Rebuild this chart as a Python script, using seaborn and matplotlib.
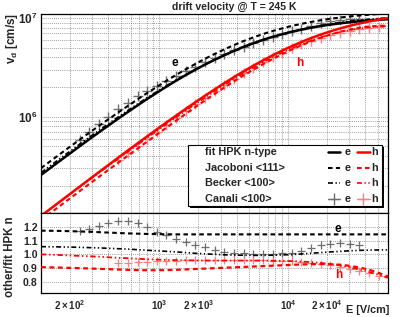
import numpy as np
import pandas as pd
import matplotlib
matplotlib.use('Agg')
import matplotlib.pyplot as plt
import seaborn as sns
from matplotlib.ticker import NullFormatter
from matplotlib.patches import Rectangle
from matplotlib.lines import Line2D

# electric field grid [V/cm]
field = [120, 143, 170, 202, 240, 285, 340, 400, 480, 570, 680, 800, 955, 1135,
         1350, 1600, 1900, 2265, 2700, 3200, 3800, 4520, 5370, 6380, 7590, 9020,
         10700, 12700, 15100, 18000, 21400, 25400, 30200, 35900, 42700, 50700, 60000]

# fit HPK n-type drift velocity [cm/s]
fit_e = [2.575e5, 3.05e5, 3.61e5, 4.26e5, 5.03e5, 5.92e5, 6.98e5, 8.12e5, 9.60e5,
         1.12e6, 1.31e6, 1.51e6, 1.75e6, 2.02e6, 2.32e6, 2.64e6, 2.99e6, 3.38e6,
         3.79e6, 4.21e6, 4.65e6, 5.11e6, 5.56e6, 6.01e6, 6.45e6, 6.87e6, 7.26e6,
         7.63e6, 7.98e6, 8.30e6, 8.59e6, 8.84e6, 9.07e6, 9.27e6, 9.44e6, 9.60e6, 9.73e6]
fit_h = [9.88e4, 1.176e5, 1.395e5, 1.654e5, 1.961e5, 2.322e5, 2.760e5, 3.234e5,
         3.861e5, 4.559e5, 5.400e5, 6.305e5, 7.454e5, 8.760e5, 1.028e6, 1.200e6,
         1.400e6, 1.634e6, 1.900e6, 2.191e6, 2.519e6, 2.886e6, 3.286e6, 3.720e6,
         4.189e6, 4.682e6, 5.192e6, 5.719e6, 6.258e6, 6.806e6, 7.337e6, 7.847e6,
         8.341e6, 8.806e6, 9.241e6, 9.637e6, 9.992e6]

# other models / fit HPK n
nan = np.nan
ratio_jac_e = [1.172, 1.171, 1.170, 1.168, 1.166, 1.164, 1.161, 1.158, 1.155, 1.152,
               1.150, 1.148, 1.147, 1.146, 1.145, 1.145, 1.145, 1.145, 1.145, 1.145,
               1.145, 1.145, 1.145, 1.145, 1.145, 1.145, 1.145, 1.145, 1.145, 1.145,
               1.145, 1.145, 1.145, 1.145, 1.145, 1.145, 1.145]
ratio_bec_e = [1.056, 1.055, 1.054, 1.053, 1.051, 1.049, 1.047, 1.044, 1.041, 1.038,
               1.034, 1.030, 1.026, 1.022, 1.018, 1.013, 1.008, 1.004, 1.000, 0.997,
               0.995, 0.994, 0.993, 0.993, 0.994, 0.996, 0.999, 1.003, 1.008, 1.013,
               1.018, 1.022, 1.026, 1.029, 1.031, 1.032, 1.033]
ratio_can_e = [nan, nan, nan, nan, 1.170, 1.185, 1.205, 1.225, 1.240, 1.245,
               1.228, 1.200, 1.165, 1.140, 1.115, 1.090, 1.070, 1.050, 1.035, 1.020,
               1.012, 1.007, 1.005, 1.005, 1.005, 1.008, 1.012, 1.025, 1.045, 1.065,
               1.075, 1.080, 1.078, 1.065, nan, nan, nan]
ratio_jac_h = [0.908, 0.906, 0.904, 0.902, 0.900, 0.898, 0.895, 0.893, 0.890, 0.888,
               0.886, 0.885, 0.885, 0.886, 0.888, 0.891, 0.894, 0.897, 0.900, 0.903,
               0.906, 0.909, 0.912, 0.915, 0.918, 0.921, 0.924, 0.927, 0.929, 0.930,
               0.929, 0.925, 0.917, 0.905, 0.889, 0.866, 0.840]
ratio_bec_h = [1.000, 0.998, 0.995, 0.992, 0.989, 0.986, 0.983, 0.979, 0.975, 0.972,
               0.968, 0.965, 0.962, 0.960, 0.958, 0.957, 0.956, 0.955, 0.955, 0.955,
               0.955, 0.955, 0.955, 0.955, 0.954, 0.953, 0.951, 0.948, 0.944, 0.938,
               0.930, 0.920, 0.906, 0.890, 0.872, 0.852, 0.830]
ratio_can_h = [nan, nan, nan, nan, nan, nan, nan, nan, 0.935, 0.940,
               0.944, 0.947, 0.950, 0.952, 0.954, 0.956, 0.957, 0.958, 0.958, 0.958,
               0.958, 0.958, 0.957, 0.956, 0.955, 0.953, 0.950, 0.946, 0.940, 0.932,
               0.922, 0.910, 0.896, 0.880, 0.862, 0.845, nan]

legend_rows = ['fit HPK n-type', 'Jacoboni <111>', 'Becker <100>', 'Canali <100>']
x_major = [200, 1000, 2000, 10000, 20000]
x_major_labels = [r'$2\times10^{2}$', r'$10^{3}$', r'$2\times10^{3}$', r'$10^{4}$', r'$2\times10^{4}$']
x_minor = [300, 400, 500, 600, 700, 800, 900, 3000, 4000, 5000, 6000, 7000, 8000, 9000,
           30000, 40000, 50000]
y_major = [1e6, 1e7]
y_major_labels = [r'$10^{6}$', r'$10^{7}$']
y_minor = [2e5, 3e5, 4e5, 5e5, 6e5, 7e5, 8e5, 9e5, 2e6, 3e6, 4e6, 5e6, 6e6, 7e6, 8e6, 9e6]
r_major = [0.8, 0.9, 1.0, 1.1, 1.2]

df = pd.DataFrame({'E': field, 'fit_e': fit_e, 'fit_h': fit_h,
                   'r_jac_e': ratio_jac_e, 'r_bec_e': ratio_bec_e, 'r_can_e': ratio_can_e,
                   'r_jac_h': ratio_jac_h, 'r_bec_h': ratio_bec_h, 'r_can_h': ratio_can_h})
for m in ['jac', 'bec', 'can']:
    df[m + '_e'] = df['fit_e'] * df['r_' + m + '_e']
    df[m + '_h'] = df['fit_h'] * df['r_' + m + '_h']

sns.set_style('white')
plt.rcParams['font.family'] = ['Liberation Sans', 'DejaVu Sans']
plt.rcParams['font.weight'] = 'bold'
plt.rcParams['mathtext.fontset'] = 'custom'
plt.rcParams['mathtext.rm'] = 'Liberation Sans:bold'
plt.rcParams['mathtext.it'] = 'Liberation Sans:bold'
plt.rcParams['mathtext.bf'] = 'Liberation Sans:bold'
plt.rcParams['mathtext.default'] = 'rm'

GRAY = '#6e6e6e'
PINK = '#ff8080'
DASH = (0, (2.2, 1.6))
DDOT = (0, (3.0, 1.5, 0.8, 1.5, 0.8, 1.5))

fig = plt.figure(figsize=(4.09, 3.17), dpi=100)
ax1 = fig.add_axes([0.1002, 0.3281, 0.8484, 0.6278])
ax2 = fig.add_axes([0.1002, 0.0757, 0.8484, 0.2524])

# --- top panel: drift velocity
sns.scatterplot(data=df, x='E', y='can_e', ax=ax1, marker='+', s=60, color=GRAY, linewidth=1.0, zorder=2)
sns.scatterplot(data=df, x='E', y='can_h', ax=ax1, marker='+', s=60, color=PINK, linewidth=1.0, zorder=2)
sns.lineplot(data=df, x='E', y='bec_e', ax=ax1, color='black', lw=1.2, linestyle=DDOT, estimator=None, sort=False, zorder=3)
sns.lineplot(data=df, x='E', y='bec_h', ax=ax1, color='red', lw=1.2, linestyle=DDOT, estimator=None, sort=False, zorder=3)
sns.lineplot(data=df, x='E', y='jac_e', ax=ax1, color='black', lw=1.5, linestyle=DASH, estimator=None, sort=False, zorder=3)
sns.lineplot(data=df, x='E', y='jac_h', ax=ax1, color='red', lw=1.5, linestyle=DASH, estimator=None, sort=False, zorder=3)
sns.lineplot(data=df, x='E', y='fit_e', ax=ax1, color='black', lw=1.8, estimator=None, sort=False, zorder=4)
sns.lineplot(data=df, x='E', y='fit_h', ax=ax1, color='red', lw=1.8, estimator=None, sort=False, zorder=4)

ax1.set_xscale('log')
ax1.set_yscale('log')
ax1.set_xlim(120, 6.0e4)
ax1.set_ylim(1.06e5, 1.10e7)
ax1.set_yticks(y_major, y_major_labels)
ax1.set_yticks(y_minor, minor=True)
ax1.yaxis.set_minor_formatter(NullFormatter())
ax1.set_xticks(x_major, ['' for _ in x_major])
ax1.set_xticks(x_minor, minor=True)
ax1.xaxis.set_minor_formatter(NullFormatter())
ax1.set_xlabel('')
ax1.set_ylabel('')

ax1.text(0.386, 0.754, 'e', transform=ax1.transAxes, ha='center', va='center', fontsize=8.5, weight='bold', color='black')
ax1.text(0.746, 0.754, 'h', transform=ax1.transAxes, ha='center', va='center', fontsize=8.5, weight='bold', color='red')

# legend box with shadow
lx0, lx1, ly0, ly1 = 0.4236, 0.9827, 0.0352, 0.3417
ax1.add_patch(Rectangle((lx0 + 0.0072, ly0 - 0.0126), lx1 - lx0, ly1 - ly0, transform=ax1.transAxes,
                        facecolor='black', edgecolor='none', zorder=5, clip_on=False))
ax1.add_patch(Rectangle((lx0, ly0), lx1 - lx0, ly1 - ly0, transform=ax1.transAxes,
                        facecolor='white', edgecolor='black', lw=0.8, zorder=6, clip_on=False))
row_y = [0.3065, 0.2261, 0.1508, 0.0704]
styles = [('-', 1.8), (DASH, 1.5), (DDOT, 1.2), ('-', 0.9)]
for i, (label, y) in enumerate(zip(legend_rows, row_y)):
    ax1.text(0.4726, y, label, transform=ax1.transAxes, ha='left', va='center', fontsize=7.8, weight='bold', zorder=7)
    ls, lw = styles[i]
    ce, ch = ('black', 'red') if i < 3 else (GRAY, PINK)
    ax1.add_line(Line2D([0.827, 0.862], [y, y], transform=ax1.transAxes, color=ce, lw=lw, linestyle=ls, zorder=7))
    ax1.add_line(Line2D([0.910, 0.948], [y, y], transform=ax1.transAxes, color=ch, lw=lw, linestyle=ls, zorder=7))
    if i == 3:
        ax1.add_line(Line2D([0.8445], [y], transform=ax1.transAxes, color=ce, marker='+', ms=9, mew=1.0, zorder=7))
        ax1.add_line(Line2D([0.929], [y], transform=ax1.transAxes, color=ch, marker='+', ms=9, mew=1.0, zorder=7))
    ax1.text(0.885, y, 'e', transform=ax1.transAxes, ha='center', va='center', fontsize=7.8, weight='bold', zorder=7)
    ax1.text(0.962, y, 'h', transform=ax1.transAxes, ha='center', va='center', fontsize=7.8, weight='bold', zorder=7)

# --- bottom panel: ratio to fit
sns.scatterplot(data=df, x='E', y='r_can_e', ax=ax2, marker='+', s=40, color=GRAY, linewidth=0.9, zorder=2)
sns.scatterplot(data=df, x='E', y='r_can_h', ax=ax2, marker='+', s=40, color=PINK, linewidth=0.9, zorder=2)
sns.lineplot(data=df, x='E', y='r_bec_e', ax=ax2, color='black', lw=1.2, linestyle=DDOT, estimator=None, sort=False, zorder=3)
sns.lineplot(data=df, x='E', y='r_bec_h', ax=ax2, color='red', lw=1.3, linestyle=DDOT, estimator=None, sort=False, zorder=3)
sns.lineplot(data=df, x='E', y='r_jac_e', ax=ax2, color='black', lw=1.5, linestyle=DASH, estimator=None, sort=False, zorder=3)
sns.lineplot(data=df, x='E', y='r_jac_h', ax=ax2, color='red', lw=1.6, linestyle=DASH, estimator=None, sort=False, zorder=3)

ax2.set_xscale('log')
ax2.set_xlim(120, 6.0e4)
ax2.set_ylim(0.72, 1.30)
ax2.set_xticks(x_major, x_major_labels)
ax2.set_xticks(x_minor, minor=True)
ax2.xaxis.set_minor_formatter(NullFormatter())
ax2.set_yticks(r_major, ['0.8', '0.9', '1.0', '1.1', '1.2'])
ax2.set_yticks(np.arange(0.72, 1.30, 0.02), minor=True)
ax2.set_xlabel('')
ax2.set_ylabel('')
ax2.text(0.856, 0.80, 'e', transform=ax2.transAxes, ha='center', va='center', fontsize=8.5, weight='bold', color='black')
ax2.text(0.859, 0.225, 'h', transform=ax2.transAxes, ha='center', va='center', fontsize=8.5, weight='bold', color='red')

grid_kw = dict(color='0.5', linestyle=(0, (1, 1.5)), lw=0.6)
ax1.grid(True, which='both', axis='both', **grid_kw)
ax2.grid(True, which='both', axis='x', **grid_kw)
ax2.grid(True, which='major', axis='y', **grid_kw)

for ax in (ax1, ax2):
    ax.set_axisbelow(True)
    ax.tick_params(which='both', direction='in', pad=2.5, width=0.7, color='0.3')
    ax.tick_params(which='major', length=4)
    ax.tick_params(which='minor', length=2)
    for sp in ax.spines.values():
        sp.set_linewidth(0.9)
        sp.set_color('black')
ax1.tick_params(axis='y', labelsize=8.5)
ax2.tick_params(axis='y', labelsize=7.6)
ax2.tick_params(axis='x', labelsize=7.0, pad=4)

fig.text(234 / 409, 1 - 7 / 317, 'drift velocity @ T = 245 K', ha='center', va='center', fontsize=7.6, weight='bold')
fig.text(12 / 409, 1 - 13 / 317, r'v$_{d}$ [cm/s]', rotation=90, ha='center', va='top', fontsize=8.5, weight='bold')
fig.text(10 / 409, 1 - 216 / 317, 'other/fit HPK n', rotation=90, ha='center', va='top', fontsize=8.3, weight='bold')
fig.text(389 / 409, 1 - 310 / 317, 'E [V/cm]', ha='right', va='center', fontsize=7.8, weight='bold')

fig.savefig('out.png', dpi=100)
